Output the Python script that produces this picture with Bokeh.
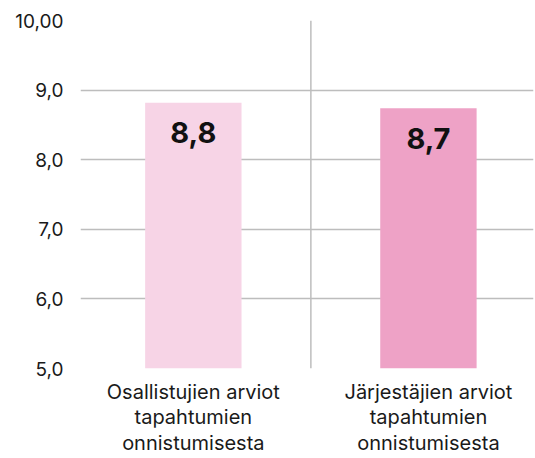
from bokeh.plotting import figure
from bokeh.models import Range1d, Span, ColumnDataSource, FixedTicker
from bokeh.core.properties import value
from bokeh.embed import file_html
from bokeh.resources import INLINE

categories = ["Osallistujien arviot\ntapahtumien\nonnistumisesta",
              "Järjestäjien arviot\ntapahtumien\nonnistumisesta"]
scores = [8.82, 8.74]
score_labels = ["8,8", "8,7"]
bar_colors = ["#F7D4E6", "#EEA2C6"]
y_ticks = [5, 6, 7, 8, 9, 10]
y_tick_labels = ["5,0", "6,0", "7,0", "8,0", "9,0", "10,00"]

FONT = "Inter"
xs = [i + 0.5 for i in range(len(categories))]

src = ColumnDataSource(dict(x=xs, top=scores, color=bar_colors, label=score_labels))

p = figure(width=535, height=458, output_backend="svg", toolbar_location=None,
           x_range=Range1d(0.02, 1.947), y_range=Range1d(5, 10),
           min_border_left=80, min_border_right=2, min_border_top=20, min_border_bottom=89)
p.outline_line_color = None
p.background_fill_color = "white"
p.border_fill_color = "white"

p.vbar(x="x", top="top", bottom=5, width=0.41, color="color", source=src, line_color=None)
p.text(x="x", y="top", text="label", source=src, text_align="center", text_baseline="middle",
       y_offset=30, text_font=value(FONT), text_font_style="bold", text_font_size="29px",
       text_color="#111111")

# divider between categories
p.add_layout(Span(location=1.0, dimension="height", line_color="#BDBDBD", line_width=1.5))

p.yaxis.ticker = FixedTicker(ticks=y_ticks)
p.yaxis.major_label_overrides = {t: l for t, l in zip(y_ticks, y_tick_labels)}
p.xaxis.ticker = FixedTicker(ticks=xs)
p.xaxis.major_label_overrides = {x: c for x, c in zip(xs, categories)}

for ax in (p.xaxis, p.yaxis):
    ax.axis_line_color = None
    ax.major_tick_line_color = None
    ax.minor_tick_line_color = None
    ax.major_tick_out = 0
    ax.major_tick_in = 0
    ax.major_label_text_font = FONT
    ax.major_label_text_color = "#1a1a1a"
p.yaxis.major_label_text_font_size = "19px"
p.xaxis.major_label_text_font_size = "20px"
p.yaxis.major_label_standoff = 17
p.xaxis.major_label_standoff = 11
p.xaxis.major_label_text_line_height = 1.08

p.xgrid.grid_line_color = None
p.ygrid.grid_line_color = "#BDBDBD"
p.ygrid.grid_line_width = 1.5

open("out.html", "w").write(file_html(p, INLINE))
